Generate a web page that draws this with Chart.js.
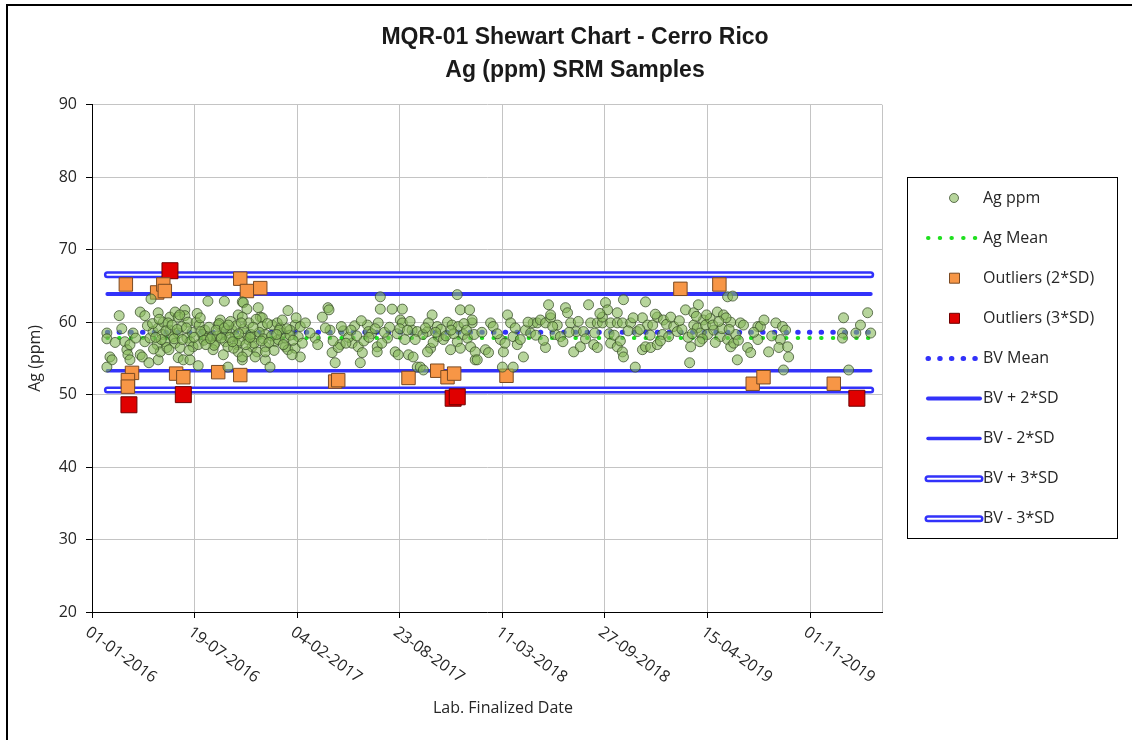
<!DOCTYPE html>
<html>
<head>
<meta charset="utf-8">
<title>MQR-01 Shewart Chart - Cerro Rico</title>
<script src="https://cdn.jsdelivr.net/npm/chart.js@4.4.1/dist/chart.umd.min.js"></script>
<style>
    html, body { margin: 0; padding: 0; background: #fff; }
    #wrap { width: 1132px; height: 740px; }
</style>
</head>
<body>
<div id="wrap"><canvas id="shewart" width="1132" height="740"></canvas></div>
<script>
// sample dates are stored as days after 01-01-2016
var sampleDay = [
    29, 29, 35, 39, 29, 53, 64, 68, 70, 74,
    74, 80, 94, 94, 98, 103, 103, 111, 113, 115,
    119, 127, 129, 129, 129, 133, 137, 139, 142, 146,
    152, 152, 158, 162, 162, 168, 168, 168, 172, 178,
    181, 181, 185, 187, 191, 191, 197, 203, 45, 58,
    85, 108, 120, 135, 148, 175, 195, 205,
    226, 258, 293, 295, 302, 324, 328, 382, 285, 293,
    209, 250, 246, 220, 215, 224, 207, 234, 240, 236,
    254, 260, 265, 256, 273, 279, 283, 285, 293, 299,
    304, 312, 302, 318, 322, 318, 332, 332, 338, 338,
    338, 347, 351, 361, 367, 357, 363, 371, 377, 382,
    396, 396, 406, 402, 410, 406, 265, 207, 293, 338,
    371, 386, 377, 390, 212, 218, 228, 238, 244, 248,
    262, 268, 270, 276, 281, 288, 296, 306, 310, 316,
    320, 326, 334, 342, 350, 355, 365, 373, 386, 392,
    398,
    416, 435, 449, 460, 462, 464, 468, 474, 484, 480,
    507, 519, 527, 523, 537, 539, 556, 556, 562, 562,
    558, 576, 585, 605, 591, 597, 601, 605, 617, 626,
    634, 640, 646, 624, 634, 654, 663, 656, 660, 654,
    673, 675, 693, 702, 714, 712, 718, 736, 724, 732,
    741, 741, 712, 718, 738, 747, 685, 699, 425, 440,
    455, 470, 490, 500, 512, 530, 545, 570, 580, 595,
    610, 620, 645, 665, 680, 690, 705, 725, 745,
    747, 751, 767, 773, 777, 782, 796, 802, 800, 821,
    810, 816, 821, 829, 835, 841, 845, 855, 860, 868,
    874, 884, 894, 890, 894, 884, 907, 903, 913, 923,
    927, 933, 939, 952, 944, 958, 968, 972, 985, 995,
    978, 985, 995, 1001, 1005, 1011, 1024, 1034, 1011, 1024,
    1024, 1036, 1034, 1036, 1050, 1063, 1059, 1073, 1083, 1093,
    1079, 1073, 1079, 1089, 1102, 1102, 1114, 1112, 1124, 760,
    790, 805, 825, 850, 865, 880, 898, 918, 930, 948,
    962, 980, 990, 1008, 1018, 1030, 1045, 1055, 1068, 1088,
    1098, 1108, 1120,
    1128, 1134, 1141, 1157, 1173, 1182, 1167, 1165, 1173, 1180,
    1186, 1192, 1196, 1200, 1212, 1219, 1231, 1239, 1249, 1225,
    1239, 1245, 1251, 1245, 1264, 1258, 1278, 1284, 1298, 1303,
    1298, 1319, 1333, 1346, 1342, 1339, 1356, 1358, 1348, 1465,
    1463, 1463, 1475, 1489, 1498, 1512, 1518, 1150, 1162, 1178,
    1190, 1205, 1215, 1228, 1236, 1255, 1270, 1290, 1310, 1325,
    1352,
    118, 124, 131, 144, 150, 156, 160, 166, 171, 176,
    184, 189, 199, 211, 222, 231, 242, 252, 258, 266,
    274, 286, 291, 300, 308, 314, 330, 345, 360, 380,
    486, 495, 505, 516, 525, 540, 552, 565, 600, 615,
    630, 650, 670, 700, 730,
    1145, 1170, 1185, 1198, 1210, 1222, 1242, 1260
];
var agPpm = [
    58.5, 57.7, 55.2, 54.8, 53.8, 60.9, 57.3, 56.2, 55.5, 54.8,
    56.9, 58.5, 61.4, 55.5, 55.2, 60.9, 57.3, 54.4, 57.8, 63.2,
    58.7, 56.9, 61.3, 59.2, 54.8, 55.9, 58.3, 60.0, 57.3, 56.5,
    60.7, 58.9, 58.0, 61.4, 57.1, 60.7, 58.5, 55.1, 56.5, 54.8,
    61.7, 60.9, 57.8, 60.0, 54.8, 57.3, 56.6, 60.0, 57.2, 59.1,
    57.8, 59.5, 56.3, 57.6, 59.9, 59.4, 58.6, 61.2,
    62.9, 62.9, 62.8, 62.7, 61.8, 62.0, 60.7, 61.6, 61.0, 60.7,
    59.6, 60.3, 59.6, 58.9, 58.3, 57.8, 56.9, 58.0, 57.1, 56.2,
    58.3, 57.3, 56.6, 55.5, 58.9, 58.0, 56.9, 55.9, 54.8, 58.5,
    57.6, 56.6, 55.9, 58.0, 55.9, 55.2, 60.6, 59.4, 58.3, 56.6,
    54.8, 53.8, 59.6, 59.9, 59.2, 57.3, 57.6, 58.5, 56.6, 56.2,
    56.4, 59.6, 59.4, 58.0, 57.1, 55.2, 53.8, 54.0, 55.2, 55.9,
    60.3, 58.9, 57.8, 55.5, 58.7, 57.5, 59.3, 56.8, 58.1, 59.8,
    58.8, 57.9, 60.1, 56.4, 59.5, 57.4, 59.1, 59.9, 58.3, 57.1,
    60.4, 58.6, 57.7, 59.8, 58.1, 56.1, 58.9, 56.9, 58.2, 57.5,
    60.6,
    59.9, 57.8, 60.7, 62.0, 61.7, 58.9, 55.8, 54.4, 56.9, 56.5,
    57.1, 56.6, 55.8, 54.4, 59.6, 58.7, 56.6, 55.9, 63.5, 61.8,
    59.9, 57.8, 61.8, 61.8, 55.9, 55.5, 60.3, 59.9, 55.5, 55.2,
    53.8, 53.8, 53.4, 58.9, 58.7, 58.7, 61.0, 59.9, 56.4, 55.9,
    59.4, 58.0, 60.0, 59.6, 59.4, 63.8, 61.7, 61.7, 58.3, 57.8,
    59.9, 60.3, 57.3, 56.4, 56.6, 54.8, 57.6, 56.2, 58.5, 56.9,
    59.2, 57.4, 58.8, 57.9, 59.5, 57.4, 58.4, 58.6, 59.3, 58.4,
    57.6, 60.1, 58.3, 57.2, 59.0, 58.1, 58.4, 59.8, 58.3,
    55.9, 54.8, 56.2, 55.8, 59.9, 59.4, 57.6, 55.9, 53.8, 53.8,
    61.0, 59.9, 58.0, 56.9, 57.6, 55.2, 58.9, 58.5, 59.9, 59.9,
    60.3, 59.9, 60.6, 62.4, 61.0, 56.5, 59.6, 58.3, 58.0, 62.0,
    61.3, 59.9, 55.9, 56.6, 58.7, 58.7, 62.4, 59.9, 59.9, 59.9,
    56.9, 56.5, 60.7, 62.7, 61.7, 59.9, 59.9, 59.9, 57.1, 56.6,
    61.3, 63.1, 55.9, 55.2, 59.9, 58.7, 53.8, 60.6, 59.6, 59.6,
    62.8, 56.2, 56.6, 56.5, 56.9, 60.7, 60.3, 58.3, 58.0, 58.6,
    58.4, 57.1, 59.2, 60.0, 58.2, 57.5, 59.4, 57.3, 58.6, 60.1,
    57.7, 58.5, 61.2, 58.4, 58.2, 57.4, 58.8, 60.6, 59.0, 58.2,
    61.1, 57.4, 59.7,
    60.7, 59.4, 58.7, 61.7, 61.3, 62.4, 56.6, 54.4, 59.6, 59.2,
    58.5, 60.3, 59.6, 58.3, 58.9, 61.4, 61.0, 63.5, 63.6, 58.0,
    57.6, 56.6, 57.1, 60.0, 59.9, 54.8, 56.5, 55.8, 59.4, 59.4,
    57.6, 55.9, 59.9, 59.4, 57.6, 56.5, 56.6, 55.2, 53.4, 60.6,
    58.5, 57.8, 53.4, 58.5, 59.6, 61.3, 58.5, 59.0, 57.9, 60.8,
    57.7, 60.5, 57.2, 59.1, 60.6, 58.3, 59.6, 58.6, 60.3, 58.1,
    58.9,
    59.8, 57.9, 60.4, 58.8, 56.2, 59.6, 57.7, 59.0, 61.0, 57.6,
    59.2, 56.1, 57.9, 60.6, 56.9, 57.7, 58.9, 57.8, 59.2, 59.6,
    57.3, 58.4, 59.9, 56.9, 57.9, 59.3, 57.4, 57.2, 58.3, 59.1,
    59.4, 57.1, 58.9, 58.1, 60.2, 57.9, 59.1, 57.1, 59.1, 58.9,
    57.6, 59.2, 58.6, 58.9, 58.9,
    60.2, 58.4, 57.3, 61.0, 59.6, 60.1, 59.0, 57.5
];

// outliers beyond 2 and 3 standard deviations
var out2Day = [66, 127, 139, 142, 289, 302, 328, 78, 70, 70, 164, 178, 246, 289, 474, 480, 617, 673, 693, 706, 808, 1147, 1223, 1288, 1309, 1446];
var out2Ppm = [65.2, 64.1, 65.2, 64.3, 66.0, 64.3, 64.7, 53.0, 52.0, 51.1, 52.9, 52.4, 53.1, 52.7, 51.8, 52.0, 52.3, 53.3, 52.4, 52.9, 52.6, 64.6, 65.2, 51.5, 52.4, 51.5];
var out3Day = [72, 152, 178, 704, 712, 1491];
var out3Ppm = [48.6, 67.1, 50.0, 49.5, 49.7, 49.5];

// reference levels
var agMean = 57.8;
var bvMean = 58.6;
var bvSd = 2.65;
var lineFrom = 30;
var lineTo = 1518;

// x axis: one tick every 200 days
var dayStep = 200;
var dateTicks = ['01-01-2016', '19-07-2016', '04-02-2017', '23-08-2017', '11-03-2018', '27-09-2018', '15-04-2019', '01-11-2019'];

var blue = 'rgb(50, 50, 250)';
var gridGray = '#c4c4c4';
var textColor = '#262626';

function flatLine(v) {
    return [{ x: lineFrom, y: v }, { x: lineTo, y: v }];
}

function lineSet(label, v, width, extra) {
    var ds = {
        label: label,
        data: flatLine(v),
        showLine: true,
        borderColor: blue,
        backgroundColor: blue,
        borderWidth: width,
        borderCapStyle: 'round',
        pointRadius: 0,
        pointHoverRadius: 0
    };
    return Object.assign(ds, extra || {});
}

var agPoints = sampleDay.map(function (d, i) { return { x: d, y: agPpm[i] }; });
var out2Points = out2Day.map(function (d, i) { return { x: d, y: out2Ppm[i] }; });
var out3Points = out3Day.map(function (d, i) { return { x: d, y: out3Ppm[i] }; });

// draws the double lines, date labels, legend and frame
var shewartExtras = {
    id: 'shewartExtras',
    beforeDatasetsDraw: function (chart) {
        var a = chart.chartArea, ctx = chart.ctx;
        ctx.save();
        ctx.strokeStyle = gridGray;
        ctx.lineWidth = 1;
        ctx.beginPath();
        ctx.moveTo(Math.round(a.right) + 0.5, a.top);
        ctx.lineTo(Math.round(a.right) + 0.5, a.bottom);
        ctx.stroke();
        ctx.restore();
    },
    afterDatasetDraw: function (chart, args) {
        var ds = chart.data.datasets[args.index];
        if (!ds.innerWhite) return;
        var pts = args.meta.data;
        var ctx = chart.ctx;
        ctx.save();
        ctx.strokeStyle = '#fff';
        ctx.lineWidth = ds.innerWhite;
        ctx.lineCap = 'round';
        ctx.beginPath();
        ctx.moveTo(pts[0].x, pts[0].y);
        ctx.lineTo(pts[pts.length - 1].x, pts[pts.length - 1].y);
        ctx.stroke();
        ctx.restore();
    },
    afterDraw: function (chart) {
        var ctx = chart.ctx, a = chart.chartArea, xs = chart.scales.x;
        ctx.save();

        // rotated date labels
        ctx.font = '16px "Open Sans"';
        ctx.fillStyle = textColor;
        ctx.textAlign = 'left';
        ctx.textBaseline = 'top';
        xs.ticks.forEach(function (t) {
            var label = dateTicks[Math.round(t.value / dayStep)];
            if (!label) return;
            var px = xs.getPixelForValue(t.value);
            ctx.save();
            ctx.translate(px, a.bottom + 12);
            ctx.rotate(36 * Math.PI / 180);
            ctx.fillText(label, 0, 0);
            ctx.restore();
        });

        ctx.textAlign = 'center';
        ctx.textBaseline = 'middle';
        ctx.fillText('Lab. Finalized Date', 503, 708);

        // legend
        var lx = 907, ly = 177, lw = 210, lh = 361;
        ctx.strokeStyle = '#000';
        ctx.lineWidth = 1;
        ctx.strokeRect(lx + 0.5, ly + 0.5, lw, lh);
        chart.data.datasets.forEach(function (ds, i) {
            var cy = 198 + i * 40.1;
            ctx.save();
            if (ds.showLine) {
                ctx.strokeStyle = ds.borderColor;
                ctx.lineWidth = ds.borderWidth;
                ctx.lineCap = 'round';
                ctx.setLineDash(ds.borderDash || []);
                ctx.beginPath();
                ctx.moveTo(928, cy);
                ctx.lineTo(ds.borderDash ? 977 : 980, cy);
                ctx.stroke();
                if (ds.innerWhite) {
                    ctx.strokeStyle = '#fff';
                    ctx.lineWidth = ds.innerWhite;
                    ctx.beginPath();
                    ctx.moveTo(928, cy);
                    ctx.lineTo(980, cy);
                    ctx.stroke();
                }
            } else {
                ctx.fillStyle = ds.backgroundColor;
                ctx.strokeStyle = ds.borderColor;
                ctx.lineWidth = 1;
                ctx.beginPath();
                if (ds.pointStyle === 'rect') {
                    ctx.rect(949.5, cy - 5, 10, 10);
                } else {
                    ctx.arc(954, cy, 4.5, 0, Math.PI * 2);
                }
                ctx.fill();
                ctx.stroke();
            }
            ctx.restore();
            ctx.font = '16px "Open Sans"';
            ctx.fillStyle = textColor;
            ctx.textAlign = 'left';
            ctx.textBaseline = 'middle';
            ctx.fillText(ds.label, 983, cy);
        });

        // outer frame of the figure
        ctx.fillStyle = '#000';
        ctx.fillRect(6, 4, 1126, 2);
        ctx.fillRect(6, 4, 2, 736);
        ctx.restore();
    }
};

var axisFont = { family: 'Open Sans', size: 16 };

var config = {
    type: 'scatter',
    data: {
        datasets: [{
            label: 'Ag ppm',
            data: agPoints,
            pointStyle: 'circle',
            pointRadius: 5,
            pointHoverRadius: 5,
            backgroundColor: 'rgba(135, 185, 90, 0.6)',
            borderColor: 'rgba(55, 75, 40, 0.75)',
            borderWidth: 1
        },
        lineSet('Ag Mean', agMean, 4, { borderColor: '#1fe01f', backgroundColor: '#1fe01f', borderDash: [0.5, 11.2] }),
        {
            label: 'Outliers (2*SD)',
            data: out2Points,
            pointStyle: 'rect',
            pointRadius: 9.5,
            pointHoverRadius: 9.5,
            backgroundColor: '#f79646',
            borderColor: '#7a4a22',
            borderWidth: 1
        }, {
            label: 'Outliers (3*SD)',
            data: out3Points,
            pointStyle: 'rect',
            pointRadius: 11.3,
            pointHoverRadius: 11.3,
            backgroundColor: '#e00000',
            borderColor: '#6e0000',
            borderWidth: 1
        },
        lineSet('BV Mean', bvMean, 5, { borderDash: [0.5, 11.2] }),
        lineSet('BV + 2*SD', bvMean + 2 * bvSd, 4),
        lineSet('BV - 2*SD', bvMean - 2 * bvSd, 3.5),
        lineSet('BV + 3*SD', bvMean + 3 * bvSd, 7, { innerWhite: 2 }),
        lineSet('BV - 3*SD', bvMean - 3 * bvSd, 7, { innerWhite: 2 })
        ]
    },
    options: {
        responsive: false,
        animation: false,
        events: [],
        layout: { padding: { left: 18, right: 0, top: 0, bottom: 0 } },
        plugins: {
            legend: { display: false },
            tooltip: { enabled: false },
            title: {
                display: true,
                text: ['MQR-01 Shewart Chart - Cerro Rico', 'Ag (ppm) SRM Samples'],
                color: '#1a1a1a',
                font: { family: 'Liberation Sans', size: 23, weight: 'bold', lineHeight: 1.43 },
                padding: { top: 21, bottom: 18 }
            }
        },
        scales: {
            x: {
                type: 'linear',
                position: 'bottom',
                min: 0,
                max: 1540,
                afterFit: function (s) { s.height = 128; },
                ticks: { stepSize: dayStep, display: false, includeBounds: false },
                grid: { color: gridGray, tickColor: '#000', tickLength: 6 },
                border: { color: '#000', width: 1 }
            },
            y: {
                position: 'left',
                min: 20,
                max: 90,
                afterFit: function (s) { s.width = 74; },
                ticks: { stepSize: 10, padding: 9, color: textColor, font: axisFont },
                grid: { color: gridGray, tickColor: '#000', tickLength: 6 },
                border: { color: '#000', width: 1 },
                title: {
                    display: true,
                    text: 'Ag (ppm)',
                    color: textColor,
                    font: axisFont,
                    padding: { top: 8, bottom: 0 }
                }
            },
            y2: {
                position: 'right',
                display: true,
                grid: { display: false },
                ticks: { display: false },
                border: { display: false },
                afterFit: function (s) { s.width = 250; }
            }
        }
    },
    plugins: [shewartExtras]
};

var shewartChart = new Chart(document.getElementById('shewart'), config);
</script>
</body>
</html>
